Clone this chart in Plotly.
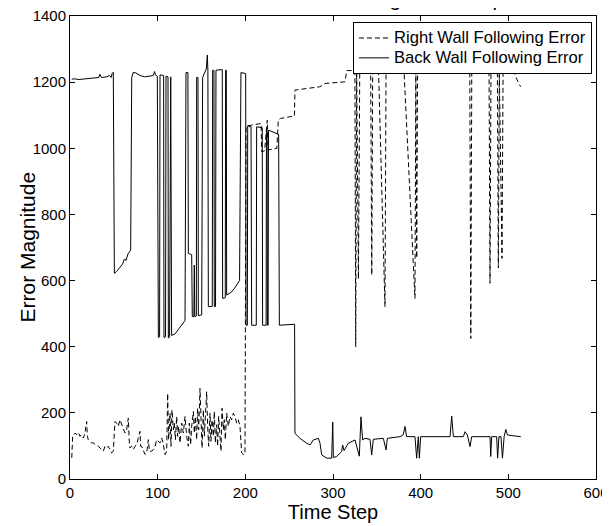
import plotly.graph_objects as go

# ---------------- data ----------------
right_t = [2, 3, 5.7, 7.6, 9.5, 11.4, 13.3, 15.2, 17.1, 19.0, 19.8, 20.9, 22.8, 24.7, 26.6,
           28.5, 30.4, 32.3, 34.2, 36.1, 38.0, 39.9, 41.8, 43.7, 45.6, 47.5, 49.4, 51.3,
           53.2, 55.1, 57.0, 58.9, 60.8, 62.7, 64.6, 66.5, 67.7, 68.4, 70.3, 72.2, 74.1,
           76.0, 79.8, 80.6, 81.7, 83.7, 85.6, 87.5, 89.4, 90.5, 93.2, 95.1, 97.0, 98.9,
           100.8, 102.7, 104.6, 106.5, 108.4, 110.3, 111.4, 112.5, 114.1, 115.2, 116.3,
           117.9, 119.0, 120.2, 121.7, 122.8, 124.0, 125.5, 127.4, 129.3, 131.2, 133.1,
           135.0, 136.1, 137.6, 138.8, 140.7, 141.8, 143.0, 144.5, 145.6, 146.8, 148.3,
           149.4, 150.6, 152.1, 153.2, 154.4, 155.9, 157.0, 158.2, 159.7, 160.8, 162.0,
           163.5, 164.6, 165.8, 167.3, 168.4, 169.6, 171.1, 172.2, 173.4, 174.9, 176.0,
           177.2, 178.7, 180.6, 182.5, 184.4, 186.3, 188.2, 190.1, 192.0, 193.9, 195.8,
           197.7, 199.6,
           200.8, 203, 210, 215, 218, 218.6, 222, 225, 226, 230, 236, 237.6, 240, 250, 256,
           256.6, 262, 270, 280, 285, 290.9, 300, 313.7, 315.6, 320, 325, 325.9, 327, 329,
           330.5, 340, 343, 344.2, 345.3, 352, 359.3, 360.5, 375, 378, 381, 393.5, 394.5,
           395.5, 396.5, 420, 430, 445, 456, 457.2, 458.3, 470, 478, 479.1, 480.2, 487.5,
           488.6, 489.7, 492.8, 494, 502, 505.8, 510, 514]
right_v = [64, 129, 139, 134, 141, 129, 134, 124, 139, 174, 129, 119, 114, 109, 109,
           104, 101, 99, 94, 89, 84, 99, 94, 99, 89, 79, 84, 174,
           169, 159, 179, 164, 149, 139, 149, 184, 109, 94, 99, 89, 99,
           104, 144, 99, 99, 84, 74, 79, 119, 84, 84, 89, 99, 119,
           114, 109, 124, 104, 74, 84, 259, 119, 199, 99, 209,
           149, 169, 119, 189, 129, 159, 109, 169, 139, 189, 129,
           99, 169, 104, 159, 204, 139, 189, 119, 214, 149, 274,
           169, 94, 209, 129, 189, 264, 159, 99, 199, 114, 179,
           129, 204, 109, 164, 99, 189, 139, 84, 214, 149, 179,
           119, 199, 159, 189, 179, 199, 189, 169, 179, 159, 79,
           74, 74,
           1067, 1068, 1070, 1072, 1075, 990, 992, 1085, 995, 997, 1000, 1085, 1090, 1095, 1097,
           1176, 1178, 1180, 1184, 1186, 1196, 1198, 1201, 1235, 1235, 1235, 400, 1233, 605,
           1235, 1233, 1235, 617, 1235, 1231, 521, 1235, 1237, 1242, 1235, 546, 1233,
           668, 1235, 1233, 1235, 1233, 1235, 425, 1235, 1233, 1235, 592, 1235, 1233,
           638, 1231, 667, 1235, 1235, 1235, 1207, 1186]

back_t = [2, 5, 10, 15, 20, 25, 30, 33, 34, 36, 42, 45, 47, 48, 49.4, 50.6, 53, 57, 60, 62,
          64, 66, 69.2, 70.4, 72, 75, 80, 85, 90, 95, 96.5, 97.5, 99.6, 100.8, 102.2, 102.7,
          106.8, 107.2, 109, 109.5, 111.8, 112.2, 113.6, 114.1, 114.9, 115.9, 120, 124, 128,
          131.2, 132.3, 134.5, 135, 138.8, 139.5, 141.3, 141.8, 142.3, 144.1, 144.5, 146,
          146.4, 150.2, 151.3, 153, 155.5, 156.6, 157.3, 157.8, 162.3, 162.7, 164.2, 164.6,
          166, 166.5, 173.7, 174.1, 177.1, 177.5, 178.3, 178.7, 184, 188, 193.4, 195, 200.4,
          200.8, 202.3, 202.7, 206.5, 207.2, 212.5, 212.9, 219.3, 219.7, 223.7, 224.1, 224.8,
          225.2, 226, 226.4, 238, 238.8, 245, 256.2, 256.6, 262.3, 270, 273.8, 277.5, 283.3,
          285.2, 287.1, 292.8, 298.5, 299.7, 300.4, 304.2, 309.9, 311, 312.6, 317.5, 321.3,
          325.1, 330, 331.9, 333.8, 336.5, 342.2, 344.1, 346, 357.4, 360.5, 362, 376.4, 380.2,
          382.1, 384, 393.5, 395.4, 397.3, 398.5, 400, 433.5, 435.4, 437.3, 448.7, 450.6,
          453.3, 456.3, 458.2, 479.1, 479.9, 481, 486.7, 487.8, 489.3, 491.6, 493.3, 495.2,
          497.1, 499, 514.2]
back_v = [1209, 1210, 1208, 1209, 1210, 1212, 1213, 1214, 1224, 1214, 1216, 1220, 1214, 1226,
          1230, 622, 627, 641, 650, 665, 661, 680, 692, 1214, 1229, 1228, 1220, 1216, 1218,
          1220, 1232, 1222, 1218, 428, 430, 1222, 1220, 428, 430, 1218, 1216, 426, 430, 1216,
          1216, 434, 439, 454, 469, 479, 1229, 1229, 682, 678, 491, 491, 647, 491, 493, 1214,
          1214, 494, 496, 1214, 1225, 1240, 1282, 1236, 521, 522, 1236, 1236, 521, 522, 1236,
          1238, 546, 548, 1236, 1236, 556, 565, 578, 600, 1229, 1226, 465, 465, 1068, 1065,
          465, 465, 1065, 1062, 465, 465, 1055, 1055, 465, 465, 1055, 1042, 465, 466, 468,
          138, 123, 108, 103, 118, 123, 108, 73, 63, 63, 172, 65, 68, 83, 103, 86, 108, 113,
          118, 69, 188, 118, 123, 120, 73, 120, 123, 88, 123, 128, 134, 159, 128, 128, 63,
          128, 63, 128, 128, 190, 128, 128, 143, 133, 98, 128, 128, 68, 128, 128, 63, 128,
          128, 63, 128, 150, 133, 128]

x_ticks = [0, 100, 200, 300, 400, 500, 600]
y_ticks = [0, 200, 400, 600, 800, 1000, 1200, 1400]

title_text = "Error Metrics While Traversing Set of Repeated Trials"
x_title = "Time Step"
y_title = "Error Magnitude"
right_name = "Right Wall Following Error"
back_name = "Back Wall Following Error"

FONT = "Liberation Sans, Arial, Helvetica, sans-serif"
LEG_SPAN = '<span style="font-size:16.6px">{}</span>'

fig = go.Figure()
fig.add_trace(go.Scatter(x=right_t, y=right_v, mode="lines", name=LEG_SPAN.format(right_name),
                         line=dict(color="black", width=1, dash="5px,3px")))
fig.add_trace(go.Scatter(x=back_t, y=back_v, mode="lines", name=LEG_SPAN.format(back_name),
                         line=dict(color="black", width=1)))

axis_common = dict(showline=True, linecolor="black", linewidth=1, mirror="ticks",
                   ticks="inside", ticklen=5, tickcolor="black", showgrid=False,
                   zeroline=False, automargin=False, ticklabeloverflow="allow",
                   tickfont=dict(family=FONT, size=15, color="black"))

# the page is shown with an 8px body margin, so the figure is offset by 8px
fig.update_layout(
    width=610, height=526,
    margin=dict(l=62, r=22, t=8, b=55, autoexpand=False),
    paper_bgcolor="white", plot_bgcolor="white",
    font=dict(family=FONT, color="black"),
    xaxis=dict(range=[0, 600], tickvals=x_ticks, **axis_common,
               title=dict(text=x_title, font=dict(family=FONT, size=20), standoff=0)),
    yaxis=dict(range=[0, 1400], tickvals=y_ticks, **axis_common),
    legend=dict(x=0.9924, y=0.987, xanchor="right", yanchor="top",
                bgcolor="white", bordercolor="black", borderwidth=1,
                font=dict(family=FONT, size=13, color="black"),
                itemwidth=30, tracegroupgap=0),
    showlegend=True,
)

# y-axis title
fig.add_annotation(text=y_title, xref="paper", yref="paper",
                   x=(27 - 70) / 526, y=0.5, textangle=-90,
                   xanchor="center", yanchor="middle", showarrow=False,
                   font=dict(family=FONT, size=21, color="black"))

# title: placed mostly above the top edge, as in the reference (only descenders show)
fig.add_annotation(text=title_text, xref="paper", yref="paper",
                   x=(122 - 70) / 526, y=1.0080,
                   xanchor="left", yanchor="bottom", showarrow=False,
                   font=dict(family=FONT, size=20.6, color="black"))

fig.write_html("out.html")
